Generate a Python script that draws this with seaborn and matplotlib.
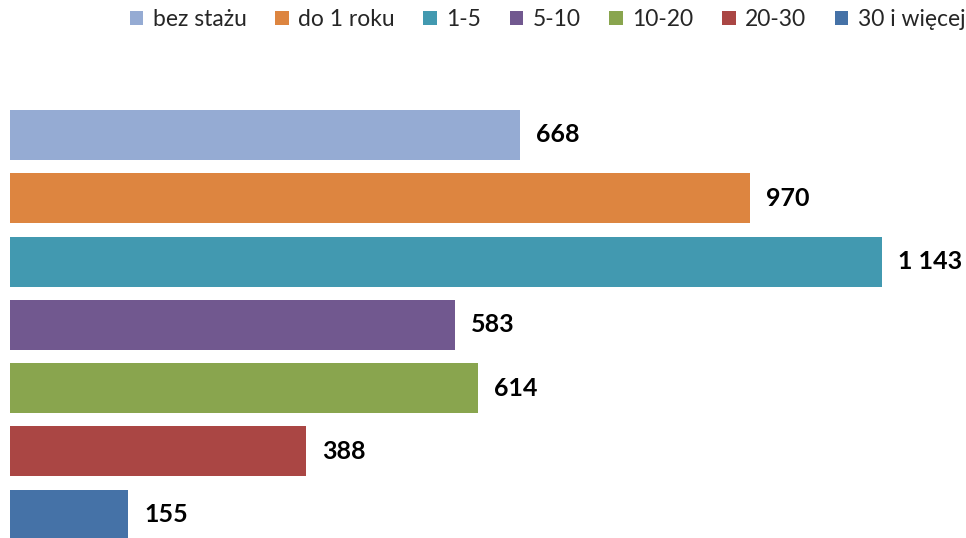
import matplotlib
matplotlib.use("Agg")
import matplotlib.pyplot as plt
import seaborn as sns
import pandas as pd
from matplotlib.patches import Patch

categories = ["bez stażu", "do 1 roku", "1-5", "5-10", "10-20", "20-30", "30 i więcej"]
values = [668, 970, 1143, 583, 614, 388, 155]
labels = ["668", "970", "1 143", "583", "614", "388", "155"]
colors = ["#95ABD3", "#DD8540", "#4299B0", "#71588F", "#89A54E", "#AA4644", "#4572A7"]

sns.set_theme(style="white")
plt.rcParams['font.family'] = ['Lato', 'DejaVu Sans']

W, H = 966, 538
fig = plt.figure(figsize=(W/100, H/100), dpi=100)
ax_top = 103.3
ax_bottom = 538
ax = fig.add_axes([10/W, 0, (W-10)/W, (ax_bottom-ax_top)/H])

df = pd.DataFrame({"cat": categories, "val": values})
sns.barplot(data=df, x="val", y="cat", hue="cat", palette=colors, order=categories,
            hue_order=categories, width=0.79, legend=False, ax=ax, saturation=1,
            linewidth=0, edgecolor="none")

px_per_unit = 63.3
ax.set_ylim(-0.5 + (ax_bottom-ax_top)/px_per_unit, -0.5)
ax.set_xlim(0, (W-10)/0.7629)
ax.axis("off")

for i, (v, lab) in enumerate(zip(values, labels)):
    ax.annotate(lab, xy=(v, i), xytext=(11.5, 0), textcoords="offset points",
                va="center", ha="left", fontsize=18, fontweight="bold", color="black")

handles = [Patch(facecolor=c, edgecolor="none") for c in colors]
fig.legend(handles, categories, loc="center right", bbox_to_anchor=(0.999, 1 - 19.5/H), ncol=7,
           frameon=False, fontsize=16.5, handlelength=0.6, handleheight=0.6,
           handletextpad=0.4, columnspacing=1.25, borderpad=0, borderaxespad=0)

fig.savefig("out.png", dpi=100)
